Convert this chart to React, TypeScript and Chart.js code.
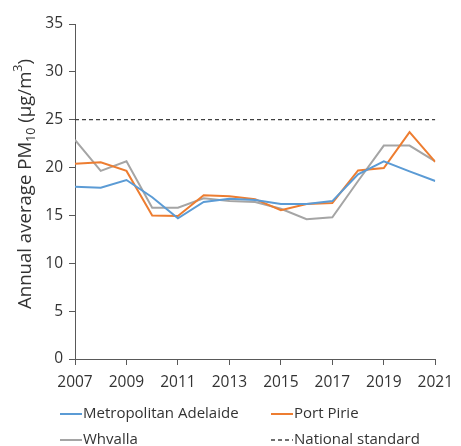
import React, { useEffect, useRef } from "react";
import { Chart, registerables } from "chart.js";

Chart.register(...registerables);

const years = [2007, 2008, 2009, 2010, 2011, 2012, 2013, 2014, 2015, 2016, 2017, 2018, 2019, 2020, 2021];
const metropolitanAdelaide = [18.0, 17.9, 18.7, 16.9, 14.7, 16.4, 16.75, 16.6, 16.2, 16.2, 16.5, 19.3, 20.65, 19.6, 18.6];
const portPirie = [20.4, 20.55, 19.65, 15.0, 14.95, 17.1, 17.0, 16.7, 15.55, 16.2, 16.3, 19.7, 19.95, 23.7, 20.6];
const whyalla = [22.9, 19.65, 20.65, 15.8, 15.8, 16.8, 16.5, 16.4, 15.7, 14.6, 14.8, 18.6, 22.3, 22.3, 20.65];
const nationalStandard = [25, 25, 25, 25, 25, 25, 25, 25, 25, 25, 25, 25, 25, 25, 25];
const yTicks = [0, 5, 10, 15, 20, 25, 30, 35];
const xTicks = [2007, 2009, 2011, 2013, 2015, 2017, 2019, 2021];
const seriesNames = ["Metropolitan Adelaide", "Port Pirie", "Whvalla", "National standard"];

const FONT = "'Open Sans', 'Noto Sans', sans-serif";
const AXIS = "#595959";
const TEXT = "#333333";

const titlePlugin = {
  id: "yTitle",
  afterDraw(chart: any) {
    const ctx = chart.ctx;
    ctx.save();
    const big = `18.6px ${FONT}`;
    const small = `12.5px ${FONT}`;
    const parts = [
      { t: "Annual average PM", f: big, dy: 0 },
      { t: "10", f: small, dy: 5 },
      { t: " (µg/m", f: big, dy: 0 },
      { t: "3", f: small, dy: -8 },
      { t: ")", f: big, dy: 0 },
    ];
    let total = 0;
    for (const p of parts) {
      ctx.font = p.f;
      total += ctx.measureText(p.t).width;
    }
    ctx.translate(26, 184);
    ctx.rotate(-Math.PI / 2);
    ctx.fillStyle = TEXT;
    ctx.textBaseline = "middle";
    let x = -total / 2;
    for (const p of parts) {
      ctx.font = p.f;
      ctx.fillText(p.t, x, p.dy);
      x += ctx.measureText(p.t).width;
    }
    ctx.restore();
  },
};

const legendPlugin = {
  id: "customLegend",
  afterDraw(chart: any) {
    const ctx = chart.ctx;
    const colors = ["#5B9BD5", "#ED7D31", "#A5A5A5", "#404040"];
    const pos = [
      [60, 414],
      [271, 414],
      [60, 440],
      [271, 440],
    ];
    ctx.save();
    ctx.font = `15px ${FONT}`;
    ctx.textBaseline = "middle";
    seriesNames.forEach((name, i) => {
      const [x, y] = pos[i];
      ctx.beginPath();
      ctx.strokeStyle = colors[i];
      ctx.lineWidth = i === 3 ? 1.3 : 2;
      ctx.setLineDash(i === 3 ? [4, 3] : []);
      ctx.moveTo(x, y);
      ctx.lineTo(x + 22, y);
      ctx.stroke();
      ctx.setLineDash([]);
      ctx.fillStyle = TEXT;
      ctx.fillText(name, x + 23, y);
    });
    ctx.restore();
  },
};

export default function App() {
  const ref = useRef<HTMLCanvasElement | null>(null);
  useEffect(() => {
    if (!ref.current) return;
    const mk = (arr: number[]) => years.map((y, i) => ({ x: y, y: arr[i] }));
    const chart = new Chart(ref.current, {
      type: "line",
      data: {
        datasets: [
          { label: seriesNames[0], data: mk(metropolitanAdelaide), borderColor: "#5B9BD5", borderWidth: 2, pointRadius: 0, tension: 0 },
          { label: seriesNames[1], data: mk(portPirie), borderColor: "#ED7D31", borderWidth: 2, pointRadius: 0, tension: 0 },
          { label: seriesNames[2], data: mk(whyalla), borderColor: "#A5A5A5", borderWidth: 2, pointRadius: 0, tension: 0 },
          { label: seriesNames[3], data: mk(nationalStandard), borderColor: "#404040", borderWidth: 1.3, borderDash: [4, 3], pointRadius: 0, tension: 0 },
        ],
      },
      options: {
        animation: false,
        responsive: false,
        devicePixelRatio: 1,
        layout: { padding: { left: 0, right: 18, top: 24, bottom: 0 } },
        plugins: { legend: { display: false }, tooltip: { enabled: false } },
        scales: {
          x: {
            type: "linear",
            min: 2007,
            max: 2021,
            afterBuildTicks: (s: any) => {
              s.ticks = xTicks.map((v) => ({ value: v }));
            },
            afterFit: (s: any) => {
              s.height = 87;
            },
            ticks: {
              color: TEXT,
              font: { family: FONT, size: 15.5 },
              padding: 8,
              maxRotation: 0,
              callback: (v: any) => String(v),
            },
            grid: { drawOnChartArea: false, drawTicks: true, tickLength: 6, color: AXIS, lineWidth: 1 },
            border: { color: AXIS, width: 1 },
          },
          y: {
            min: 0,
            max: 35,
            afterBuildTicks: (s: any) => {
              s.ticks = yTicks.map((v) => ({ value: v }));
            },
            afterFit: (s: any) => {
              s.width = 75;
            },
            ticks: {
              color: TEXT,
              font: { family: FONT, size: 15.5 },
              padding: 6,
            },
            grid: { drawOnChartArea: false, drawTicks: true, tickLength: 6, color: AXIS, lineWidth: 1 },
            border: { color: AXIS, width: 1 },
          },
        },
      },
      plugins: [titlePlugin, legendPlugin],
    } as any);
    return () => chart.destroy();
  }, []);
  return (
    <div style={{ position: "absolute", left: 0, top: 0, width: 461, height: 446, background: "#fff" }}>
      <canvas ref={ref} width={461} height={446} style={{ display: "block", width: 461, height: 446 }} />
    </div>
  );
}
